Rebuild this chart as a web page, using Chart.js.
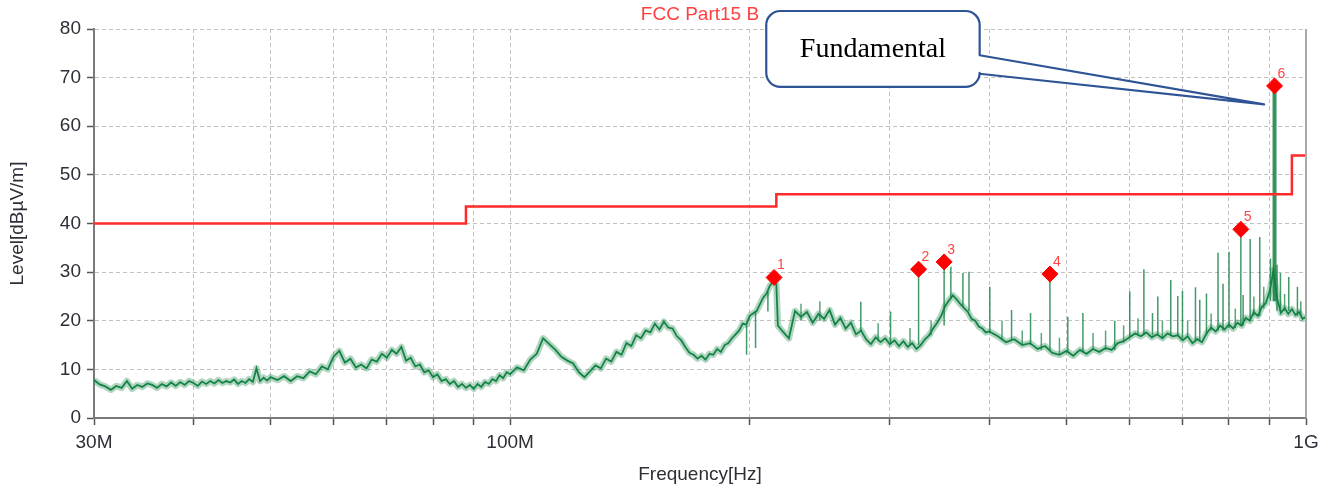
<!DOCTYPE html>
<html>
<head>
<meta charset="utf-8">
<title>FCC Part15 B radiated emission</title>
<script src="https://cdn.jsdelivr.net/npm/chart.js@4.4.1/dist/chart.umd.min.js"></script>
<style>
  html, body { margin: 0; padding: 0; background: #fff; }
  #wrap { width: 1333px; height: 488px; }
</style>
</head>
<body>
<div id="wrap"><canvas id="emiChart" width="1333" height="488"></canvas></div>
<script>
// ---- data (frequency in MHz, level in dBuV/m) ----

const traceFreq = [
  30, 30.5, 31, 31.5, 32, 32.5, 33, 33.5, 34, 34.5, 35, 35.5, 36, 36.5, 37, 37.5, 38, 38.5, 39, 39.5,
  40, 40.5, 41, 41.5, 42, 42.5, 43, 43.5, 44, 44.5, 45, 45.5, 46, 46.5, 47, 47.5, 48, 48.5, 49, 49.5, 50,
  51, 52, 53, 54, 55, 56, 57, 58, 59, 60, 61, 62, 63, 64, 65, 66, 67, 68, 69, 70,
  71, 72, 73, 74, 75, 76, 77, 78, 79, 80, 81, 82, 83, 84, 85, 86, 87, 88, 89, 90,
  91, 92, 93, 94, 95, 96, 97, 98, 99, 100,
  102, 104, 106, 108, 110, 112, 114, 116, 118, 120, 122, 124, 126, 128, 130, 132, 134, 136, 138, 140,
  142, 144, 146, 148, 150, 152, 154, 156, 158, 160, 162, 164, 166, 168, 170, 172, 174, 176, 178, 180,
  182, 184, 186, 188, 190, 192, 194, 196, 198, 200,
  204, 208, 210, 212, 214, 215, 216, 217, 220, 224, 228, 232, 236, 240, 244, 248, 252, 256, 260, 264,
  268, 272, 276, 280, 284, 288, 292, 296, 300, 304, 308, 312, 316, 320, 324, 328, 332, 336, 340, 344,
  348, 352, 356, 360, 364, 368, 372, 376, 380, 384, 388, 392, 396, 400,
  410, 420, 430, 440, 450, 460, 470, 480, 490, 500, 510, 520, 530, 540, 550, 560, 570, 580, 590, 600,
  610, 620, 630, 640, 650, 660, 670, 680, 690, 700, 710, 720, 730, 740, 750, 760, 770, 780, 790, 800,
  810, 820, 830, 840, 850, 860, 870, 880, 890, 900, 905, 910, 920, 930, 940, 950, 960, 970, 980, 990, 1000
];
const traceLevel = [
  7.8, 6.9, 6.5, 5.8, 6.6, 6.2, 7.6, 6.0, 6.8, 6.4, 7.1, 6.8, 6.2, 7.0, 6.5, 7.3, 6.6, 7.4, 6.8, 7.6,
  7.2, 6.6, 7.5, 7.0, 7.6, 7.1, 7.8, 7.2, 7.6, 7.3, 7.9, 7.0, 7.6, 7.2, 8.0, 7.4, 10.2, 7.6, 8.3, 7.7, 8.4,
  7.8, 8.6, 7.6, 8.6, 8.2, 9.6, 9.0, 10.6, 10.0, 12.6, 13.8, 11.4, 12.2, 10.4, 11.0, 10.2, 12.0, 11.6, 13.2, 12.4,
  14.0, 13.2, 14.6, 11.8, 12.4, 10.6, 11.0, 9.4, 9.8, 8.4, 9.0, 7.6, 8.0, 7.0, 7.6, 6.4, 7.0, 6.2, 6.8, 6.0,
  7.0, 6.4, 7.4, 7.0, 8.0, 7.6, 8.8, 8.2, 9.4, 9.0,
  10.4, 9.8, 12.0, 13.2, 16.4, 15.2, 14.0, 12.6, 11.8, 11.2, 9.4, 8.4, 9.6, 10.8, 10.2, 12.2, 11.6, 13.6, 13.0, 15.4,
  14.8, 17.0, 16.4, 18.0, 17.6, 19.4, 18.2, 19.8, 18.6, 18.4, 16.8, 16.0, 14.6, 13.4, 13.0, 12.2, 12.8, 12.0, 13.2, 13.0,
  14.2, 13.6, 15.0, 15.4, 16.4, 17.2, 18.0, 19.4, 19.2, 21.0,
  22.0, 24.8, 25.6, 27.2, 28.0, 28.6, 27.4, 19.0, 17.8, 16.4, 22.0, 20.8, 21.8, 19.6, 21.4, 20.4, 22.2, 19.2, 20.6, 18.4,
  19.6, 17.2, 18.0, 16.2, 15.2, 16.6, 15.6, 16.4, 15.2, 16.0, 14.8, 15.8, 14.6, 15.4, 14.2, 15.0, 16.2, 17.0, 18.4, 19.6,
  21.0, 23.0, 24.2, 25.2, 24.4, 23.4, 22.6, 21.8, 20.4, 20.0, 18.8, 18.4, 17.6, 17.8,
  16.8, 15.6, 16.2, 15.0, 15.4, 14.2, 14.8, 13.4, 13.0, 13.8, 12.8, 14.0, 13.2, 14.2, 13.6, 14.4, 14.0, 15.4, 15.8, 16.6,
  17.4, 16.8, 17.6, 16.6, 17.2, 16.4, 17.4, 16.8, 17.0, 16.0, 16.8, 15.4, 16.2, 15.6, 17.4, 18.6, 17.8, 19.0, 18.2, 19.2,
  18.4, 19.6, 19.0, 20.6, 20.0, 21.8, 21.0, 22.8, 23.6, 26.0, 28.0, 30.4, 24.6, 21.6, 22.6, 21.4, 22.4, 21.2, 21.8, 20.4, 20.8
];

// narrow spurious lines sticking out of the noise floor
const spikeFreq = [198.2, 203.4, 210.8, 275.8, 300.6, 326, 351, 357.9, 370.6, 377.2,
  400.6, 426.6, 450.7, 476.7, 502, 524.4, 575, 600.6, 625.6, 641.4,
  651.3, 676.2, 690, 699.5, 726.3, 735.4, 749.8, 775.3, 786.6, 800.4,
  828.2, 833.7, 850.8, 874.8, 902.4, 919.6, 928.7, 951.3, 975.5];
const spikeFrom = [19, 22, 26, 18, 15.5, 15, 19, 24.5, 23, 22,
  17.5, 16, 15, 14, 13.5, 13.5, 14, 16.5, 17, 17,
  17, 17, 17, 16.5, 16, 16, 17, 18, 18, 18.5,
  19, 19, 20, 21, 24, 22, 22, 22, 21];
const spikeTo = [13, 14.4, 21.9, 23.9, 21.9, 30.6, 32.1, 31.1, 29.8, 30.1,
  27, 22.2, 21.6, 29.6, 20.8, 21.6, 20, 26, 30.6, 21.6,
  25, 28.4, 25.1, 26.1, 26.9, 24.3, 25.6, 34, 27.6, 34.2,
  37.5, 25.3, 36.8, 37.2, 32.8, 31.5, 29.8, 29, 27];

// short noise ticks in the upper band
const tickFreq = [232, 245, 290, 318, 338, 415, 440, 465, 490, 540, 560, 590, 615, 660, 710, 760, 815, 860, 885, 940, 985];
const tickFrom = [20, 20, 16, 15, 17, 16, 15, 14, 13, 14, 14, 15.5, 17, 16.5, 16.5, 18, 18.5, 21, 22.5, 22, 21];
const tickTo = [23.5, 24, 19.5, 18.5, 20, 20, 18, 17.5, 16.5, 17.5, 18, 19, 20.5, 20, 20, 21.5, 22.5, 25, 27, 25.5, 24];

// the carrier
const fundamentalFreq = 913;
const fundamentalFrom = 24;
const fundamentalTo = 67.5;

// peak markers
const markerFreq = [214.6, 326, 351, 476.7, 828.2, 913];
const markerLevel = [28.9, 30.6, 32.1, 29.6, 38.8, 68.3];
const markerLabel = ['1', '2', '3', '4', '5', '6'];

// FCC Part 15 class B limit (steps)
const limitFreq = [30, 88, 216, 960, 1000];
const limitLevel = [40, 43.5, 46, 54, 54];

// axes
const xGridFreq = [30, 40, 50, 60, 70, 80, 90, 100, 200, 300, 400, 500, 600, 700, 800, 900, 1000];
const xLabelFreq = [30, 100, 1000];
const xLabelText = ['30M', '100M', '1G'];
const yMin = 0, yMax = 80, yStep = 10;

// callout, in data units
const callout = { text: 'Fundamental', f1: 209.8, f2: 389, top: 83.7, bottom: 68.1,
                  attachTop: 74.6, attachBottom: 70.8, tipFreq: 886, tipLevel: 64.5 };

// ---- build datasets ----
function verticalSegments(freqs, from, to) {
    const pts = [];
    freqs.forEach((f, i) => {
        pts.push({ x: f, y: from[i] }, { x: f, y: to[i] }, { x: f, y: null });
    });
    return pts;
}
const tracePoints = traceFreq.map((f, i) => ({ x: f, y: traceLevel[i] }));
const spikePoints = verticalSegments(spikeFreq, spikeFrom, spikeTo);
const tickPoints = verticalSegments(tickFreq, tickFrom, tickTo);
const limitPoints = limitFreq.map((f, i) => ({ x: f, y: limitLevel[i] }));
const markerPoints = markerFreq.map((f, i) => ({ x: f, y: markerLevel[i] }));

const SANS = '"Liberation Sans", Arial, sans-serif';
const GREEN = '#148446';

// titles, marker numbers, frame and the callout box
const overlay = {
    id: 'overlay',
    afterDatasetsDraw(chart) {
        const { ctx, chartArea: a, scales: { x, y } } = chart;
        ctx.save();

        // right frame line
        ctx.strokeStyle = '#a8a8a8';
        ctx.lineWidth = 2;
        ctx.beginPath();
        ctx.moveTo(a.right, a.top);
        ctx.lineTo(a.right, a.bottom);
        ctx.stroke();

        // marker numbers
        ctx.font = '14px ' + SANS;
        ctx.fillStyle = '#ff4545';
        ctx.textAlign = 'left';
        ctx.textBaseline = 'bottom';
        markerFreq.forEach((f, i) => {
            ctx.fillText(markerLabel[i], x.getPixelForValue(f) + 3, y.getPixelForValue(markerLevel[i]) - 5);
        });

        // chart title
        const cx = (a.left + a.right) / 2;
        ctx.font = '19px ' + SANS;
        ctx.textAlign = 'center';
        ctx.textBaseline = 'middle';
        ctx.fillStyle = '#ff4040';
        ctx.fillText('FCC Part15 B', cx, 15);

        // axis titles
        ctx.fillStyle = '#2e2e38';
        ctx.fillText('Frequency[Hz]', cx, 475);
        ctx.save();
        ctx.translate(18, (a.top + a.bottom) / 2);
        ctx.rotate(-Math.PI / 2);
        ctx.fillText('Level[dBµV/m]', 0, 0);
        ctx.restore();

        // callout with pointer to the fundamental
        const L = x.getPixelForValue(callout.f1), R = x.getPixelForValue(callout.f2);
        const T = y.getPixelForValue(callout.top), B = y.getPixelForValue(callout.bottom);
        const yA = y.getPixelForValue(callout.attachTop), yB = y.getPixelForValue(callout.attachBottom);
        const tx = x.getPixelForValue(callout.tipFreq), ty = y.getPixelForValue(callout.tipLevel);
        const r = 14;
        ctx.beginPath();
        ctx.moveTo(L + r, T);
        ctx.lineTo(R - r, T);
        ctx.arcTo(R, T, R, T + r, r);
        ctx.lineTo(R, yA);
        ctx.lineTo(tx, ty);
        ctx.lineTo(R, yB);
        ctx.lineTo(R, B - r);
        ctx.arcTo(R, B, R - r, B, r);
        ctx.lineTo(L + r, B);
        ctx.arcTo(L, B, L, B - r, r);
        ctx.lineTo(L, T + r);
        ctx.arcTo(L, T, L + r, T, r);
        ctx.closePath();
        ctx.fillStyle = '#fff';
        ctx.fill();
        ctx.strokeStyle = '#2f5496';
        ctx.lineWidth = 2.2;
        ctx.lineJoin = 'round';
        ctx.stroke();

        ctx.font = '28px "Liberation Serif", "Times New Roman", serif';
        ctx.fillStyle = '#000';
        ctx.textAlign = 'center';
        ctx.textBaseline = 'middle';
        ctx.fillText(callout.text, (L + R) / 2, (T + B) / 2 + 1);

        ctx.restore();
    }
};

const gridStyle = {
    color: '#c2c2c2',
    lineWidth: 1,
    drawTicks: true,
    tickLength: 7,
    tickColor: '#555',
    tickWidth: 1.5,
    tickBorderDash: []
};
const borderStyle = { display: true, color: '#7a7a7a', width: 2, dash: [4, 3] };

new Chart(document.getElementById('emiChart'), {
    type: 'line',
    data: {
        datasets: [
            {
                label: 'markers',
                data: markerPoints,
                showLine: false,
                pointStyle: 'rectRot',
                pointRadius: 8,
                pointBackgroundColor: '#ff0000',
                pointBorderColor: '#ff0000',
                pointBorderWidth: 1,
                order: 0
            },
            {
                label: 'limit',
                data: limitPoints,
                stepped: 'before',
                borderColor: '#ff2a2a',
                borderWidth: 2.5,
                pointRadius: 0,
                order: 1
            },
            {
                label: 'fundamental',
                data: [{ x: fundamentalFreq, y: fundamentalFrom }, { x: fundamentalFreq, y: fundamentalTo }],
                borderColor: 'rgba(20, 128, 66, 0.85)',
                borderWidth: 4,
                pointRadius: 0,
                order: 2
            },
            {
                label: 'spikes',
                data: spikePoints,
                spanGaps: false,
                borderColor: 'rgba(20, 128, 66, 0.8)',
                borderWidth: 1.5,
                pointRadius: 0,
                order: 3
            },
            {
                label: 'noise ticks',
                data: tickPoints,
                spanGaps: false,
                borderColor: 'rgba(20, 128, 66, 0.7)',
                borderWidth: 1.5,
                pointRadius: 0,
                order: 3
            },
            {
                label: 'trace',
                data: tracePoints,
                borderColor: GREEN,
                borderWidth: 1.8,
                pointRadius: 0,
                tension: 0,
                order: 4
            },
            {
                // soft halo gives the scan its fuzzy noise-band look
                label: 'trace halo',
                data: tracePoints,
                borderColor: 'rgba(20, 132, 70, 0.33)',
                borderWidth: 6.5,
                borderJoinStyle: 'round',
                pointRadius: 0,
                tension: 0,
                order: 5
            }
        ]
    },
    options: {
        responsive: false,
        animation: false,
        events: [],
        layout: { padding: { top: 29, right: 27, left: 0, bottom: 0 } },
        plugins: {
            legend: { display: false },
            tooltip: { enabled: false },
            title: { display: false }
        },
        scales: {
            x: {
                type: 'logarithmic',
                min: 30,
                max: 1000,
                afterBuildTicks: (scale) => { scale.ticks = xGridFreq.map(v => ({ value: v })); },
                afterFit: (scale) => { scale.height = 70; },
                ticks: {
                    autoSkip: false,
                    maxRotation: 0,
                    padding: 6,
                    color: '#2e2e38',
                    font: { family: SANS, size: 19 },
                    callback: (v) => {
                        const k = xLabelFreq.indexOf(v);
                        return k >= 0 ? xLabelText[k] : '';
                    }
                },
                grid: gridStyle,
                border: borderStyle
            },
            y: {
                min: yMin,
                max: yMax,
                afterFit: (scale) => { scale.width = 94; },
                ticks: {
                    stepSize: yStep,
                    padding: 6,
                    color: '#2e2e38',
                    font: { family: SANS, size: 19 }
                },
                grid: gridStyle,
                border: borderStyle
            }
        }
    },
    plugins: [overlay]
});
</script>
</body>
</html>
